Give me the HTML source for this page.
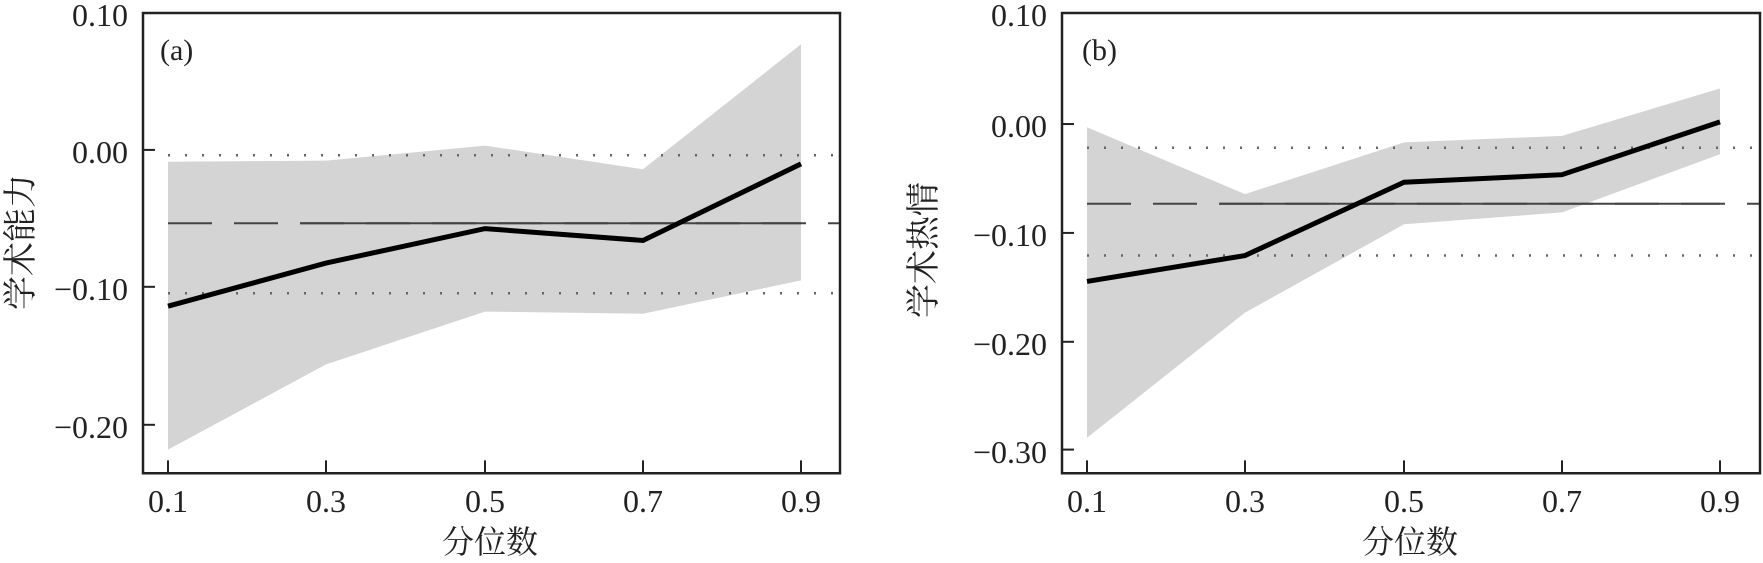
<!DOCTYPE html>
<html><head><meta charset="utf-8"><style>body{margin:0;background:#fff}svg{display:block}</style></head><body>
<svg width="1763" height="563" viewBox="0 0 1763 563" xmlns="http://www.w3.org/2000/svg" font-family="'Liberation Serif','Noto Serif CJK SC',serif" fill="#222">
<g transform="translate(0,13) scale(1,1.078) translate(0,-13)">
<!-- Panel A -->
<polygon points="168,151 326,150 485,136 643,158 801,42 801,261 643,292 485,290 326,339 168,418" fill="#d4d4d4"/>
<line x1="168" y1="145" x2="840" y2="145" stroke="#666" stroke-width="2.5" stroke-dasharray="2,15" vector-effect="non-scaling-stroke"/>
<line x1="168" y1="273" x2="840" y2="273" stroke="#666" stroke-width="2.5" stroke-dasharray="2,15" vector-effect="non-scaling-stroke"/>
<line x1="168" y1="208" x2="840" y2="208" stroke="#444" stroke-width="2" stroke-dasharray="44,22" vector-effect="non-scaling-stroke"/>
<line x1="300" y1="208" x2="801" y2="208" stroke="#444" stroke-width="2" vector-effect="non-scaling-stroke"/>
<polyline points="168,285 326,245 485,213 643,224 801,153" fill="none" stroke="#000" stroke-width="5" vector-effect="non-scaling-stroke"/>
<rect x="143" y="13" width="697" height="427" fill="none" stroke="#222" stroke-width="2.5" vector-effect="non-scaling-stroke"/>
<g stroke="#222" stroke-width="2">
<line x1="143" y1="140" x2="155" y2="140" vector-effect="non-scaling-stroke"/><line x1="143" y1="267" x2="155" y2="267" vector-effect="non-scaling-stroke"/><line x1="143" y1="395" x2="155" y2="395" vector-effect="non-scaling-stroke"/>
<line x1="168" y1="440" x2="168" y2="428" vector-effect="non-scaling-stroke"/><line x1="326" y1="440" x2="326" y2="428" vector-effect="non-scaling-stroke"/><line x1="485" y1="440" x2="485" y2="428" vector-effect="non-scaling-stroke"/><line x1="643" y1="440" x2="643" y2="428" vector-effect="non-scaling-stroke"/><line x1="801" y1="440" x2="801" y2="428" vector-effect="non-scaling-stroke"/>
</g>
<!-- Panel B -->
<polygon points="1087,119 1245,181 1404,133 1562,127 1720,83 1720,144 1562,198 1404,209 1245,291 1087,407" fill="#d4d4d4"/>
<line x1="1087" y1="138" x2="1760" y2="138" stroke="#666" stroke-width="2.5" stroke-dasharray="2,15" vector-effect="non-scaling-stroke"/>
<line x1="1087" y1="238" x2="1760" y2="238" stroke="#666" stroke-width="2.5" stroke-dasharray="2,15" vector-effect="non-scaling-stroke"/>
<line x1="1087" y1="190" x2="1760" y2="190" stroke="#444" stroke-width="2" stroke-dasharray="44,22" vector-effect="non-scaling-stroke"/>
<line x1="1220" y1="190" x2="1720" y2="190" stroke="#444" stroke-width="2" vector-effect="non-scaling-stroke"/>
<polyline points="1087,262 1245,238 1404,170 1562,163 1720,114" fill="none" stroke="#000" stroke-width="5" vector-effect="non-scaling-stroke"/>
<rect x="1062" y="13" width="698" height="427" fill="none" stroke="#222" stroke-width="2.5" vector-effect="non-scaling-stroke"/>
<g stroke="#222" stroke-width="2">
<line x1="1062" y1="116" x2="1074" y2="116" vector-effect="non-scaling-stroke"/><line x1="1062" y1="217" x2="1074" y2="217" vector-effect="non-scaling-stroke"/><line x1="1062" y1="318" x2="1074" y2="318" vector-effect="non-scaling-stroke"/><line x1="1062" y1="418" x2="1074" y2="418" vector-effect="non-scaling-stroke"/>
<line x1="1087" y1="440" x2="1087" y2="428" vector-effect="non-scaling-stroke"/><line x1="1245" y1="440" x2="1245" y2="428" vector-effect="non-scaling-stroke"/><line x1="1404" y1="440" x2="1404" y2="428" vector-effect="non-scaling-stroke"/><line x1="1562" y1="440" x2="1562" y2="428" vector-effect="non-scaling-stroke"/><line x1="1720" y1="440" x2="1720" y2="428" vector-effect="non-scaling-stroke"/>
</g>
</g>
<g font-size="32" text-anchor="end">
<text x="128" y="26">0.10</text><text x="128" y="163">0.00</text><text x="128" y="300">−0.10</text><text x="128" y="438">−0.20</text>
<text x="1047" y="26">0.10</text><text x="1047" y="137">0.00</text><text x="1047" y="246">−0.10</text><text x="1047" y="355">−0.20</text><text x="1047" y="463">−0.30</text>
</g>
<g font-size="32" text-anchor="middle">
<text x="168" y="512">0.1</text><text x="326" y="512">0.3</text><text x="485" y="512">0.5</text><text x="643" y="512">0.7</text><text x="801" y="512">0.9</text>
<text x="1087" y="512">0.1</text><text x="1245" y="512">0.3</text><text x="1404" y="512">0.5</text><text x="1562" y="512">0.7</text><text x="1720" y="512">0.9</text>
<text x="490" y="553" font-size="32">分位数</text>
<text x="1410" y="553" font-size="32">分位数</text>
<text transform="translate(32,242) rotate(-90)" font-size="34">学术能力</text>
<text transform="translate(935,250) rotate(-90)" font-size="34">学术热情</text>
</g>
<text x="160" y="60" font-size="30">(a)</text>
<text x="1082" y="60" font-size="30">(b)</text>
</svg>
</body></html>
